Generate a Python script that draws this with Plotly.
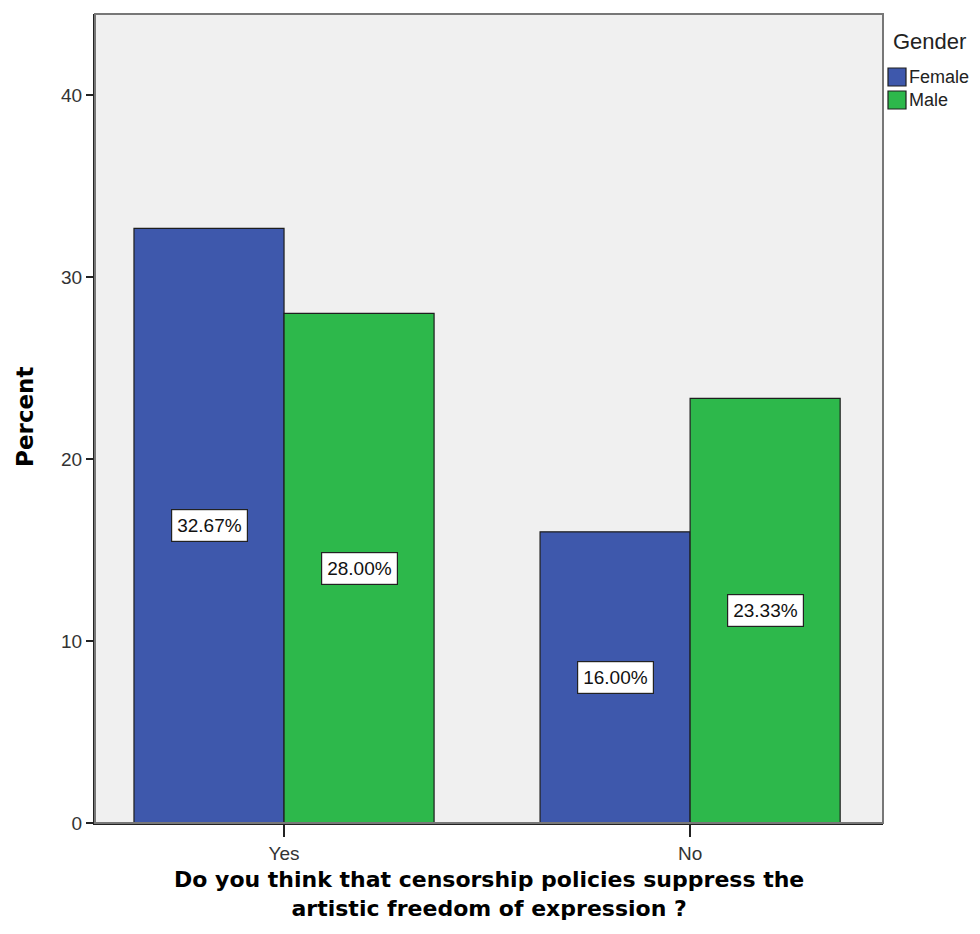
import plotly.graph_objects as go

categories = ["Yes", "No"]
female = [32.67, 16.00]
male = [28.00, 23.33]
series_names = ["Female", "Male"]
series_colors = ["#3E58AC", "#2DB84B"]
y_ticks = [0, 10, 20, 30, 40]
x_title = "Do you think that censorship policies suppress the<br>artistic freedom of expression ?"
y_title = "Percent"
legend_title = "Gender"

FONT = "Liberation Sans, Arial, sans-serif"
BOLD = "DejaVu Sans, Verdana, sans-serif"

fig = go.Figure()
for name, vals, col in zip(series_names, [female, male], series_colors):
    fig.add_trace(go.Bar(x=categories, y=vals, name=name, showlegend=False,
                         marker=dict(color=col, line=dict(color="#1e1e1e", width=1.2))))

annotations = []
for vals, shift in ((female, -75), (male, 75)):
    for c, v in zip(categories, vals):
        annotations.append(dict(
            x=c, y=v / 2, xref="x", yref="y", xshift=shift,
            text=f"{v:.2f}%", showarrow=False,
            font=dict(family=FONT, size=19, color="#111"),
            bgcolor="white", bordercolor="#222", borderwidth=1.2, borderpad=5,
        ))

# axis titles
annotations.append(dict(text=x_title, xref="paper", yref="paper", x=0.5, y=-0.088,
                        xanchor="center", yanchor="middle", showarrow=False,
                        font=dict(family=BOLD, size=22, color="#000", weight="bold")))
annotations.append(dict(text=y_title, xref="paper", yref="paper", x=-0.0888, y=0.502,
                        xanchor="center", yanchor="middle", showarrow=False, textangle=-90,
                        font=dict(family=BOLD, size=23, color="#000", weight="bold")))

# custom legend
annotations.append(dict(text=legend_title, xref="paper", yref="paper", x=1, y=1,
                        xanchor="left", yanchor="middle", xshift=8, yshift=-27, showarrow=False,
                        font=dict(family=FONT, size=22, color="#222")))
shapes = []
for i, (name, col) in enumerate(zip(series_names, series_colors)):
    top = 54 + i * 23
    shapes.append(dict(type="rect", xref="paper", yref="paper", xsizemode="pixel", ysizemode="pixel",
                       xanchor=1, yanchor=1, x0=5, x1=23, y0=-top, y1=-(top + 18),
                       fillcolor=col, line=dict(color="#1e1e1e", width=1.2)))
    annotations.append(dict(text=name, xref="paper", yref="paper", x=1, y=1,
                            xanchor="left", yanchor="middle", xshift=24, yshift=-(top + 9), showarrow=False,
                            font=dict(family=FONT, size=18, color="#222")))

shapes.append(dict(type="rect", xref="paper", yref="paper", x0=0, x1=1, y0=0, y1=1,
                   line=dict(color="#777", width=2), layer="above"))

fig.update_layout(
    width=964, height=918,
    margin=dict(l=87, r=89, t=6, b=103),
    paper_bgcolor="white", plot_bgcolor="#F0F0F0",
    barmode="group", bargap=0.261, bargroupgap=0,
    font=dict(family=FONT, size=19, color="#222"),
    annotations=annotations,
    shapes=shapes,
    showlegend=False,
    xaxis=dict(
        range=[-0.4655, 1.475], showgrid=False, automargin=False,
        showline=True, linecolor="#222", linewidth=2,
        ticks="outside", ticklen=12, tickcolor="#222", tickwidth=1.5,
        tickfont=dict(size=19, family=FONT, color="#333"),
    ),
    yaxis=dict(
        range=[0, 44.45], showgrid=False, zeroline=False, automargin=False,
        tickvals=y_ticks, ticks="outside", ticklen=7, tickcolor="#222", tickwidth=1.5,
        showline=True, linecolor="#222", linewidth=2,
        tickfont=dict(size=19, family=FONT, color="#333"),
    ),
)

fig.write_html("out.html")
